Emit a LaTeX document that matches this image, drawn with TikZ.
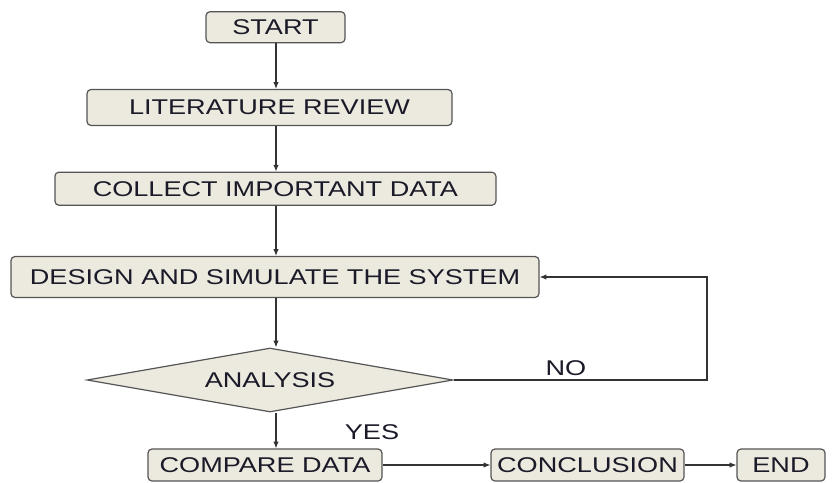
\documentclass[tikz,border=0pt]{standalone}
\usepackage{fontspec}
\setmainfont[FakeStretch=1.27]{Liberation Sans}
\usetikzlibrary{shapes.geometric,arrows.meta}
\newdimen\px \px=0.75pt
\definecolor{boxfill}{HTML}{ECE9DF}
\definecolor{boxline}{HTML}{555555}
\definecolor{txt}{HTML}{1A1A28}
\definecolor{conn}{HTML}{333333}
\begin{document}
\begin{tikzpicture}[x=0.75pt,y=-0.75pt,
  every node/.style={font=\fontsize{16pt}{18pt}\selectfont, text=txt},
  procbox/.style={draw=boxline, fill=boxfill, line width=0.9pt, rounded corners=3pt, inner sep=0pt, align=center},
  decbox/.style={diamond, draw=boxline, fill=boxfill, line width=0.9pt, inner sep=0pt, aspect=5.7},
  arr/.style={draw=conn, line width=0.8pt, -{Latex[length=5pt,width=4pt]}},
  lbl/.style={inner sep=0pt}]
\useasboundingbox (0,0) rectangle (835,482);
\node[procbox, minimum width=139\px, minimum height=31\px] (start) at (275.5,27.2) {START};
\node[procbox, minimum width=365\px, minimum height=36\px] (lit) at (269.5,107.5) {LITERATURE REVIEW};
\node[procbox, minimum width=441\px, minimum height=33\px] (collect) at (275.4,188.7) {COLLECT IMPORTANT DATA};
\node[procbox, minimum width=528\px, minimum height=41\px] (design) at (275,277) {DESIGN AND SIMULATE THE SYSTEM};
\node[decbox, minimum width=366\px, minimum height=64\px] (analysis) at (270,380) {ANALYSIS};
\node[procbox, minimum width=234\px, minimum height=32\px] (compare) at (265,465) {COMPARE DATA};
\node[procbox, minimum width=193\px, minimum height=32\px] (concl) at (587.5,465) {CONCLUSION};
\node[procbox, minimum width=88\px, minimum height=32\px] (end) at (781,465) {END};
\coordinate (col) at (276,0);
\coordinate (loopc) at (707,0);
\draw[arr] (col |- start.south) -- (col |- lit.north);
\draw[arr] (col |- lit.south) -- (col |- collect.north);
\draw[arr] (col |- collect.south) -- (col |- design.north);
\draw[arr] (col |- design.south) -- (col |- analysis.north);
\draw[arr] (col |- analysis.south) -- (col |- compare.north);
\draw[arr] (compare.east) -- (concl.west);
\draw[arr] (concl.east) -- (end.west);
\draw[arr] (analysis.east) -- (loopc |- analysis.east) -- (loopc |- design.east) -- (design.east);
\node[lbl] (no) at (566,368) {NO};
\node[lbl] (yes) at (372,432) {YES};
\end{tikzpicture}
\end{document}
